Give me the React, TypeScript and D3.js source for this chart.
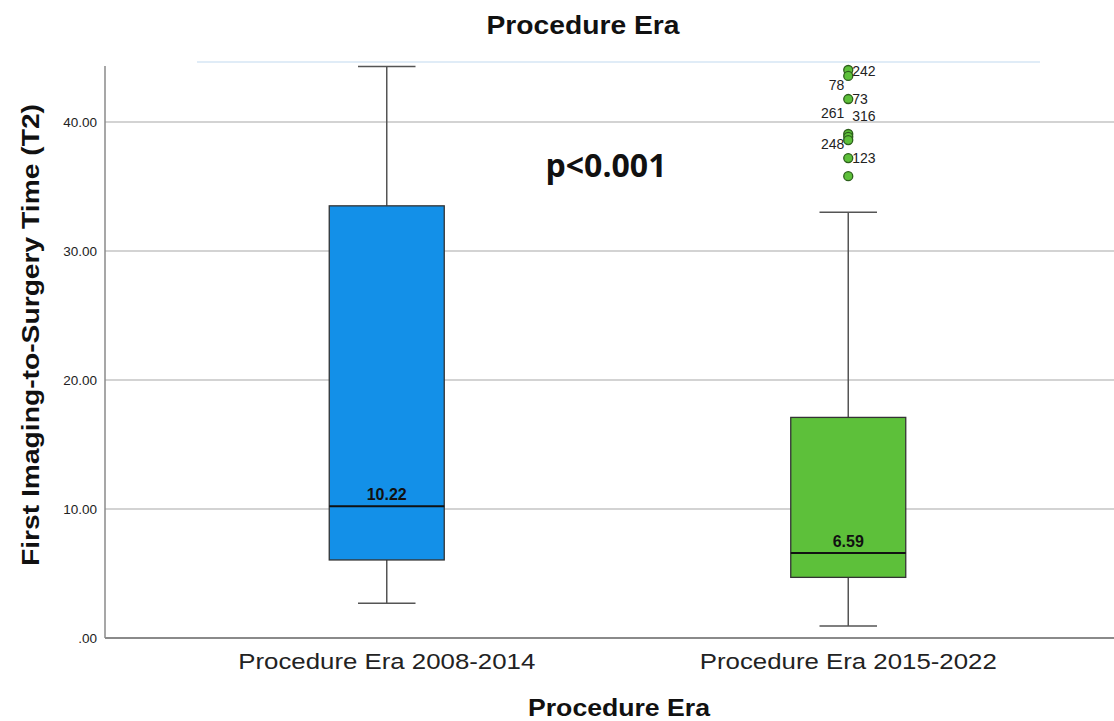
import React, { useEffect, useRef } from "react";
import * as d3 from "d3";

// box summaries
const categories = ["Procedure Era 2008-2014", "Procedure Era 2015-2022"];
const boxColors = ["#1390E8", "#5DC03A"];
const whiskerLow = [2.7, 0.93];
const q1 = [6.05, 4.7];
const median = [10.22, 6.59];
const q3 = [33.5, 17.1];
const whiskerHigh = [44.3, 33.0];

// outliers of the second era
const outlierValues = [44.03, 43.57, 41.78, 39.07, 38.85, 38.6, 37.2, 35.8];
const outlierIds = ["242", "78", "73", "261", "316", "248", "123", ""];
// label placement: side of the point and vertical nudge
const outlierSide = ["right", "left", "right", "left", "right", "left", "right", "right"];
const outlierNudge = [1, 9, 0, -21, -21, 4, 0, 0];

const yTicks = [0, 10, 20, 30, 40];

const App = () => {
  const svgRef = useRef<SVGSVGElement>(null);

  useEffect(() => {
    const svg = d3.select(svgRef.current);
    svg.selectAll("*").remove();

    const width = 1114;
    const height = 721;
    const left = 105;
    const right = 1114;
    const top = 62;
    const bottom = 638;

    svg.attr("width", width).attr("height", height);

    const x = d3.scaleBand().domain(categories).range([156, 1079]);
    const y = d3.scaleLinear().domain([0, 44.65]).range([bottom, top]);
    const boxW = 115;

    // faint remnant line at the top
    svg.append("line")
      .attr("x1", 197).attr("x2", 1040)
      .attr("y1", top).attr("y2", top)
      .attr("stroke", "#d6e6f5")
      .attr("stroke-width", 1.5);

    // gridlines
    svg.selectAll(".grid")
      .data(yTicks.filter(d => d > 0))
      .enter()
      .append("line")
      .attr("x1", left).attr("x2", right)
      .attr("y1", d => y(d)).attr("y2", d => y(d))
      .attr("stroke", "#d3d3d3")
      .attr("stroke-width", 2);

    // axes
    svg.append("line")
      .attr("x1", left).attr("x2", left)
      .attr("y1", 66).attr("y2", bottom)
      .attr("stroke", "#8a8a8a").attr("stroke-width", 1.5);
    svg.append("line")
      .attr("x1", left).attr("x2", right)
      .attr("y1", bottom).attr("y2", bottom)
      .attr("stroke", "#8a8a8a").attr("stroke-width", 2);

    svg.selectAll(".ytick")
      .data(yTicks)
      .enter()
      .append("text")
      .attr("x", 97)
      .attr("y", d => y(d) + 5)
      .attr("text-anchor", "end")
      .attr("font-family", "Liberation Sans, Arial, sans-serif")
      .attr("font-size", 13.5)
      .attr("fill", "#222")
      .text(d => (d === 0 ? ".00" : d.toFixed(2)));

    // boxes
    categories.forEach((c, i) => {
      const cx = x(c)! + x.bandwidth() / 2;
      const g = svg.append("g");

      g.append("line")
        .attr("x1", cx).attr("x2", cx)
        .attr("y1", y(whiskerHigh[i])).attr("y2", y(q3[i]))
        .attr("stroke", "#555").attr("stroke-width", 1.5);
      g.append("line")
        .attr("x1", cx).attr("x2", cx)
        .attr("y1", y(q1[i])).attr("y2", y(whiskerLow[i]))
        .attr("stroke", "#555").attr("stroke-width", 1.5);
      [whiskerHigh[i], whiskerLow[i]].forEach(v => {
        g.append("line")
          .attr("x1", cx - boxW / 4).attr("x2", cx + boxW / 4)
          .attr("y1", y(v)).attr("y2", y(v))
          .attr("stroke", "#555").attr("stroke-width", 1.5);
      });

      g.append("rect")
        .attr("x", cx - boxW / 2)
        .attr("y", y(q3[i]))
        .attr("width", boxW)
        .attr("height", y(q1[i]) - y(q3[i]))
        .attr("fill", boxColors[i])
        .attr("stroke", "#333")
        .attr("stroke-width", 1.3);

      g.append("line")
        .attr("x1", cx - boxW / 2).attr("x2", cx + boxW / 2)
        .attr("y1", y(median[i])).attr("y2", y(median[i]))
        .attr("stroke", "#111").attr("stroke-width", 2);

      g.append("text")
        .attr("x", cx)
        .attr("y", y(median[i]) - 6)
        .attr("text-anchor", "middle")
        .attr("font-family", "Liberation Sans, Arial, sans-serif")
        .attr("font-weight", "bold")
        .attr("font-size", 16)
        .attr("fill", "#111")
        .text(median[i].toFixed(2));

      svg.append("text")
        .attr("x", cx)
        .attr("y", 669)
        .attr("text-anchor", "middle")
        .attr("font-family", "Liberation Sans, Arial, sans-serif")
        .attr("font-size", 22)
        .attr("textLength", 297)
        .attr("lengthAdjust", "spacingAndGlyphs")
        .attr("fill", "#222")
        .text(c);
    });

    // outliers
    const ox = x(categories[1])! + x.bandwidth() / 2;
    outlierValues.forEach(v => {
      svg.append("circle")
        .attr("cx", ox)
        .attr("cy", y(v))
        .attr("r", 4.5)
        .attr("fill", boxColors[1])
        .attr("stroke", "#2d5f1c")
        .attr("stroke-width", 1.3);
    });
    outlierValues.forEach((v, i) => {
      if (!outlierIds[i]) return;
      const isRight = outlierSide[i] === "right";
      svg.append("text")
        .attr("x", isRight ? ox + 4 : ox - 4)
        .attr("y", y(v) + outlierNudge[i] + 5)
        .attr("text-anchor", isRight ? "start" : "end")
        .attr("font-family", "Liberation Sans, Arial, sans-serif")
        .attr("font-size", 14)
        .attr("fill", "#222")
        .text(outlierIds[i]);
    });

    // titles
    svg.append("text")
      .attr("x", 583).attr("y", 34)
      .attr("text-anchor", "middle")
      .attr("font-family", "Liberation Sans, Arial, sans-serif")
      .attr("font-weight", "bold")
      .attr("font-size", 25)
      .attr("textLength", 193)
      .attr("lengthAdjust", "spacingAndGlyphs")
      .attr("fill", "#111")
      .text("Procedure Era");

    svg.append("text")
      .attr("x", 619).attr("y", 716)
      .attr("text-anchor", "middle")
      .attr("font-family", "Liberation Sans, Arial, sans-serif")
      .attr("font-weight", "bold")
      .attr("font-size", 24)
      .attr("textLength", 182)
      .attr("lengthAdjust", "spacingAndGlyphs")
      .attr("fill", "#111")
      .text("Procedure Era");

    svg.append("text")
      .attr("transform", "translate(39,335) rotate(-90)")
      .attr("text-anchor", "middle")
      .attr("font-family", "Liberation Sans, Arial, sans-serif")
      .attr("font-weight", "bold")
      .attr("font-size", 24)
      .attr("textLength", 462)
      .attr("lengthAdjust", "spacingAndGlyphs")
      .attr("fill", "#111")
      .text("First Imaging-to-Surgery Time (T2)");

    svg.append("text")
      .attr("x", 606).attr("y", 177)
      .attr("text-anchor", "middle")
      .attr("font-family", "Open Sans, Lato, sans-serif")
      .attr("font-weight", "bold")
      .attr("font-size", 32)
      .attr("textLength", 121)
      .attr("lengthAdjust", "spacingAndGlyphs")
      .attr("fill", "#111")
      .text("p<0.001");
  }, []);

  return <svg ref={svgRef} style={{ position: "absolute", left: 0, top: 0 }}></svg>;
};

export default App;
